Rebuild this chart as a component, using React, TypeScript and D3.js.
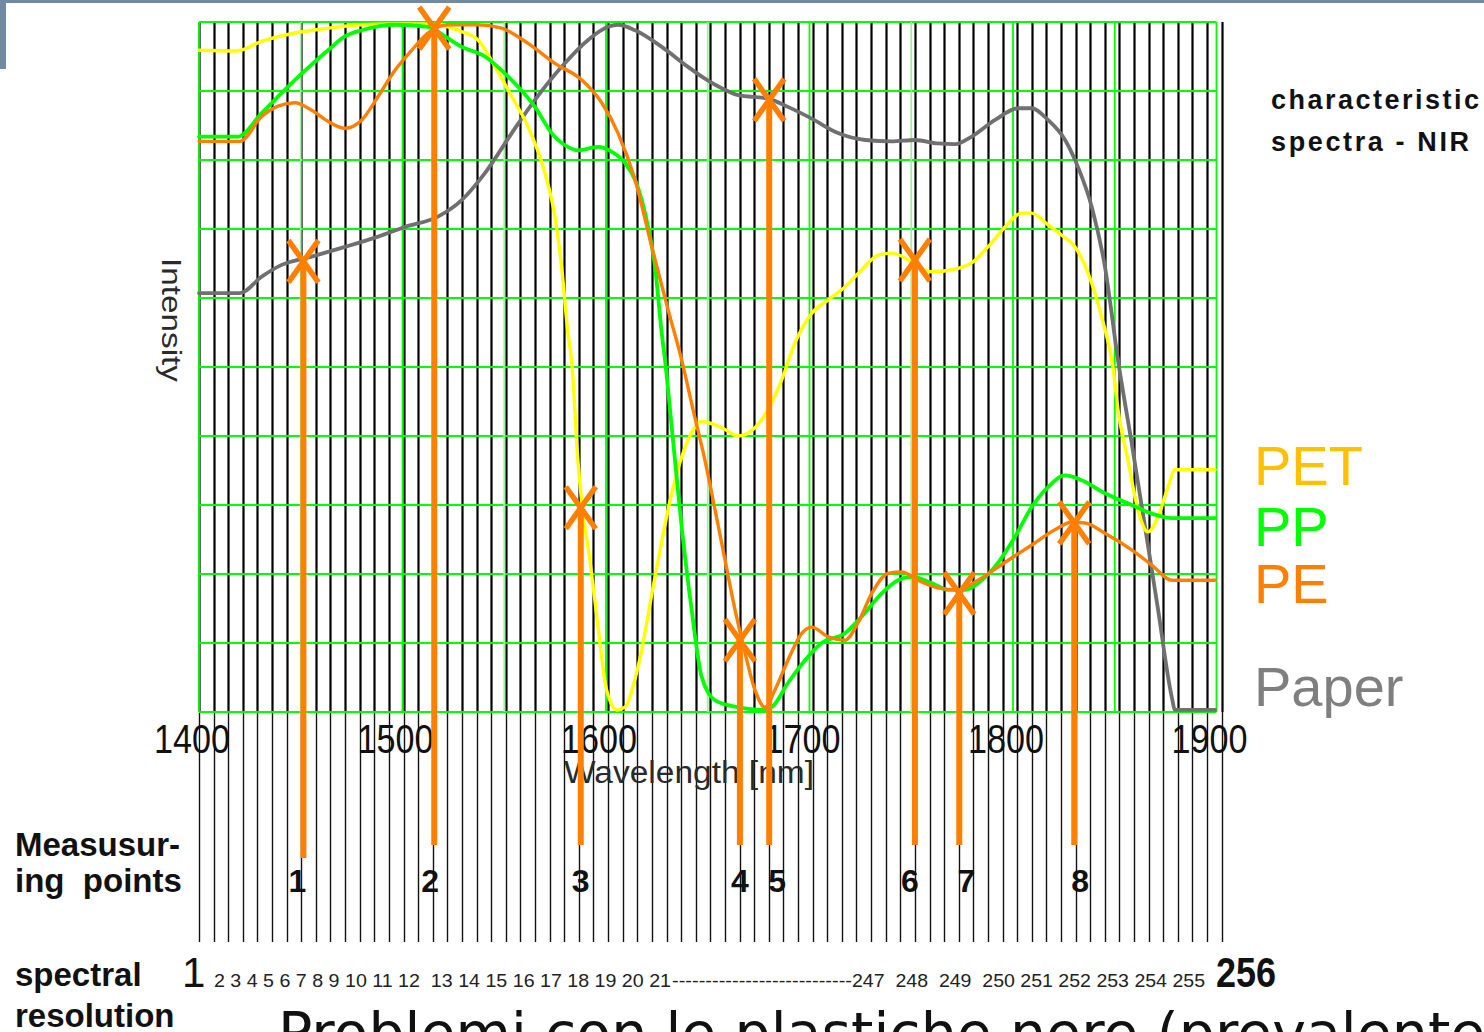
import React from "react";
import * as d3 from "d3";

// ---------- DATA ----------
const WAVELENGTH_TICKS = [1400, 1500, 1600, 1700, 1800, 1900];
const GRID_WAVELENGTHS = [1400, 1450, 1500, 1550, 1600, 1650, 1700, 1750, 1800, 1850, 1900];
const GRID_INTENSITIES = [0, 10, 20, 30, 40, 50, 60, 70, 80, 90, 100];
const RESOLUTION_COMB_COUNT = 71;

const PET: [number, number][] = [
  [1400, 95.9], [1418.5, 95.8], [1430.8, 97.2], [1447.2, 98.4], [1463.4, 99.1], [1480, 99.6],
  [1496.3, 99.7], [1512.5, 99.7], [1529.1, 98.6], [1537.1, 97.4], [1545.5, 93.5], [1553.7, 89.2],
  [1561.7, 84.8], [1570, 78.1], [1574.9, 71.8], [1578.2, 64.5], [1581.3, 54.9], [1583.1, 51.0],
  [1586.2, 36.5], [1588.1, 30.3], [1592.1, 22.0], [1596.1, 12.3], [1600.3, 3.2], [1605.3, 0.3],
  [1609.3, 0.7], [1615.7, 6.5], [1624.1, 19.6], [1632.3, 31.7], [1640.3, 39.4], [1647, 42.1],
  [1656.9, 41.2], [1664.9, 40], [1673.2, 41.2], [1679.6, 43.8], [1686.3, 48.1], [1692.9, 53.5],
  [1701.1, 57.8], [1709.1, 59.7], [1717.4, 61.6], [1725.7, 64.1], [1733.7, 66.2], [1740.4, 66.5],
  [1746.9, 65.8], [1753.3, 64.5], [1760.1, 63.8], [1773, 64.3], [1779.7, 65.1], [1787.7, 67.4],
  [1796.1, 70.3], [1804.3, 72.3], [1809.2, 72.3], [1817.2, 70.6], [1823.9, 69.1], [1830.5, 67.4],
  [1836.9, 63.6], [1843.6, 57.2], [1849.1, 50], [1851.6, 43.8], [1856.5, 36.5], [1861.4, 29.3],
  [1866.3, 26.1], [1871.3, 28.3], [1876.2, 32.6], [1879.6, 35.1], [1899.3, 35.1],
];

const PP: [number, number][] = [
  [1400, 83.4], [1419.2, 83.4], [1430.8, 86.8], [1447.2, 91.6], [1463.4, 95.9], [1471.7, 97.9],
  [1480, 98.8], [1496.3, 99.6], [1512.5, 99.3], [1520.9, 97.9], [1529.1, 96.4], [1540.5, 95],
  [1548.7, 93], [1556.8, 90.6], [1565.1, 87.7], [1573.3, 83.9], [1581.3, 81.9], [1586.2, 81.4],
  [1596.1, 81.9], [1602.8, 81.2], [1609.3, 79.6], [1614.3, 77.1], [1619.2, 72.3], [1624.1, 64.5],
  [1627.4, 54.9], [1629, 51], [1632.3, 41.3], [1637.2, 26.8], [1642.1, 14.8], [1647, 5.1],
  [1653.6, 1.7], [1664.9, 0.7], [1676.5, 0.3], [1681.4, 0.7], [1689.4, 4.2], [1697.8, 7.5],
  [1706, 10], [1717.4, 11.4], [1725.6, 13.8], [1735.5, 17.2], [1743.5, 19.1], [1750.2, 19.6],
  [1760, 18.7], [1768.1, 17.7], [1776.4, 17.7], [1784.6, 19.1], [1792.6, 21.6], [1801, 25.4],
  [1809.2, 29.7], [1817.2, 32.6], [1825.6, 34.3], [1833.8, 33.6], [1845.2, 31.7], [1858.3, 30],
  [1869.8, 28.6], [1878, 28.1], [1899.3, 28.1],
];

const PE: [number, number][] = [
  [1400, 82.7], [1420.1, 82.7], [1430.8, 86.3], [1438.8, 87.8], [1447.2, 88.3], [1455.4, 87.2],
  [1463.4, 85.6], [1471.7, 84.6], [1480, 85.8], [1488, 89.2], [1496.3, 93], [1504.5, 95.9],
  [1512.5, 98.4], [1522.4, 99.6], [1537.1, 99.6], [1548.7, 99.1], [1561.7, 96.9], [1574.9, 94],
  [1588.1, 91.6], [1597.9, 88.3], [1605.9, 83.9], [1614.3, 77.1], [1622.5, 67.4], [1630.5, 58.3],
  [1637.2, 51], [1642.8, 43.8], [1648.6, 36.5], [1653.6, 29.3], [1658.5, 22], [1663.4, 14.8],
  [1668.3, 8.6], [1673.2, 3.2], [1678.1, 0.7], [1683, 3.2], [1689.4, 7.5], [1696.2, 11.4],
  [1701.1, 12.3], [1709.1, 10.9], [1717.4, 10.4], [1723.8, 12.9], [1730.6, 17.2], [1738.6, 20.1],
  [1745.3, 20.3], [1753.3, 19.1], [1763.1, 18], [1773, 17.7], [1782.8, 19.1], [1796.1, 21.7],
  [1809.2, 24.2], [1820.6, 26.4], [1828.8, 27.5], [1835.4, 27.4], [1845.2, 25.9], [1858.3, 23.5],
  [1868.2, 21.3], [1878, 19.1], [1899.3, 19.1],
];

const PAPER: [number, number][] = [
  [1400, 60.7], [1420.1, 60.7], [1430.8, 63.1], [1440.6, 64.8], [1455.4, 66], [1471.7, 67.4],
  [1488, 68.9], [1501.2, 70.3], [1517.4, 71.8], [1529.1, 74.2], [1540.5, 78.1], [1553.7, 83.9],
  [1565.1, 88.7], [1578.2, 93.5], [1591.2, 97.4], [1601, 99.3], [1605.9, 99.6], [1614.3, 98.8],
  [1627.4, 96.4], [1640.3, 93.5], [1648.6, 91.8], [1656.9, 90.4], [1664.9, 89.4], [1679.6, 88.9],
  [1689.4, 87.7], [1701.1, 86], [1714, 83.9], [1727.3, 82.9], [1740.4, 82.7], [1751.8, 82.9],
  [1763.1, 82.4], [1771.5, 82.3], [1779.7, 83.4], [1791.2, 85.8], [1802.5, 87.5], [1809.2, 87.5],
  [1817.2, 85.8], [1825.6, 82.9], [1831.9, 79], [1838.7, 73.2], [1845.2, 64.5], [1851.6, 51],
  [1858.3, 39], [1864.9, 26.8], [1871.3, 14.8], [1878, 2.2], [1879.6, 0.3], [1899.3, 0.3],
];

const POINT_LABELS = ["1", "2", "3", "4", "5", "6", "7", "8"];
const POINT_WAVELENGTHS = [1451.3, 1515.6, 1587.6, 1665.8, 1680.2, 1751.8, 1773.6, 1830.1];
const POINT_INTENSITIES = [65.3, 99.1, 29.6, 10.4, 88.7, 65.5, 17.2, 27.4];

const LEGEND_LABELS = ["PET", "PP", "PE", "Paper"];
const RES_LOW_LABELS = "2 3 4 5 6 7 8 9 10 11 12  13 14 15 16 17 18 19 20 21";
const RES_HIGH_LABELS = "247  248  249  250 251 252 253 254 255";

// ---------- LAYOUT / STYLE ----------
const W = 1484;
const H = 1032;
const PLOT_LEFT = 199;
const PLOT_RIGHT = 1216.5;
const PLOT_TOP = 22;
const PLOT_BOTTOM = 712;
const COMB_RIGHT = 1221.7;
const COMB_BOTTOM = 942;
const MEASURE_BOTTOM = 845;
const LABEL_NUDGE = [-6, -4, 0, 0, 8, -5, 7, 6];

const COLORS = {
  PET: "#ffff00",
  PP: "#00ff00",
  PE: "#ff8000",
  Paper: "#707070",
};
const LEGEND_COLORS = ["#ffc000", "#00ff00", "#ff8000", "#7f7f7f"];
const LEGEND_BASELINES = [485, 546, 603, 706];
const SANS = "'Liberation Sans', Arial, sans-serif";

export default function App() {
  const x = d3.scaleLinear().domain([1400, 1900]).range([PLOT_LEFT, PLOT_RIGHT]);
  const y = d3.scaleLinear().domain([0, 100]).range([PLOT_BOTTOM, PLOT_TOP]);
  const comb = d3.scaleLinear().domain([0, RESOLUTION_COMB_COUNT - 1]).range([PLOT_LEFT, COMB_RIGHT]);

  const line = d3
    .line<[number, number]>()
    .x((d) => x(d[0]))
    .y((d) => y(d[1]))
    .curve(d3.curveMonotoneX);

  const series = [
    { key: "Paper", data: PAPER, color: COLORS.Paper, width: 3.8 },
    { key: "PET", data: PET, color: COLORS.PET, width: 3.4 },
    { key: "PP", data: PP, color: COLORS.PP, width: 3.8 },
    { key: "PE", data: PE, color: COLORS.PE, width: 3.4 },
  ];

  return (
    <svg
      width={W}
      height={H}
      viewBox={`0 0 ${W} ${H}`}
      style={{ position: "absolute", left: 0, top: 0, background: "#fff" }}
    >
      <rect x={0} y={0} width={W} height={H} fill="#fff" />
      {/* slide decoration */}
      <rect x={0} y={0} width={W} height={3} fill="#7189a1" />
      <rect x={0} y={0} width={6} height={69} fill="#7189a1" />

      {/* spectral-resolution comb */}
      <g>
        {d3.range(RESOLUTION_COMB_COUNT).map((i) => {
          const cx = Math.round(comb(i)) + 0.5;
          return (
            <g key={i}>
              <line x1={cx} x2={cx} y1={PLOT_TOP} y2={PLOT_BOTTOM} stroke="#000" strokeWidth={2.2} />
              <line x1={cx} x2={cx} y1={PLOT_BOTTOM} y2={COMB_BOTTOM} stroke="#111" strokeWidth={1.4} />
            </g>
          );
        })}
      </g>

      {/* green grid */}
      <g>
        {GRID_INTENSITIES.map((v) => (
          <line key={"h" + v} x1={PLOT_LEFT} x2={PLOT_RIGHT} y1={y(v)} y2={y(v)} stroke="#00ff00" strokeWidth={1.8} />
        ))}
        {GRID_WAVELENGTHS.map((v) => (
          <line
            key={"v" + v}
            x1={x(v)}
            x2={x(v)}
            y1={PLOT_TOP}
            y2={PLOT_BOTTOM}
            stroke={v % 100 === 0 || v === 1850 ? "#00ff00" : "#9ef29e"}
            strokeWidth={1.8}
          />
        ))}
      </g>

      {/* axis tick labels */}
      <g fontFamily={SANS} fontSize={40} fill="#111">
        {WAVELENGTH_TICKS.map((t) => (
          <text
            key={t}
            x={x(t) - 7 - 38}
            y={753}
            textLength={76}
            lengthAdjust="spacingAndGlyphs"
          >
            {t}
          </text>
        ))}
      </g>
      <text x={564} y={783} fontFamily={SANS} fontSize={31} fill="#2a2a2a" textLength={250} lengthAdjust="spacingAndGlyphs">
        Wavelength [nm]
      </text>
      <text
        transform="translate(162,258) rotate(90)"
        fontFamily={SANS}
        fontSize={27}
        fill="#2a2a2a"
        textLength={124}
        lengthAdjust="spacingAndGlyphs"
      >
        Intensity
      </text>

      {/* spectra */}
      <g fill="none" strokeLinejoin="round" strokeLinecap="round">
        {series.map((s) => (
          <path key={s.key} d={line(s.data) || ""} stroke={s.color} strokeWidth={s.width} />
        ))}
      </g>

      {/* measuring points */}
      <g stroke="#ff8000">
        {POINT_WAVELENGTHS.map((w, i) => {
          const cx = x(w);
          const cy = y(POINT_INTENSITIES[i]);
          return (
            <g key={i}>
              <line x1={cx} x2={cx} y1={cy} y2={MEASURE_BOTTOM + (i === 0 ? 13 : 0)} strokeWidth={6} />
              <line x1={cx - 15} x2={cx + 15} y1={cy - 21} y2={cy + 21} strokeWidth={5.5} />
              <line x1={cx + 15} x2={cx - 15} y1={cy - 21} y2={cy + 21} strokeWidth={5.5} />
            </g>
          );
        })}
      </g>
      <g fontFamily={SANS} fontSize={32} fontWeight="bold" fill="#111" textAnchor="middle">
        {POINT_LABELS.map((l, i) => (
          <text key={l} x={x(POINT_WAVELENGTHS[i]) + LABEL_NUDGE[i]} y={892}>
            {l}
          </text>
        ))}
      </g>

      {/* right-side title */}
      <g fontFamily={SANS} fontSize={27} fontWeight="bold" fill="#111">
        <text x={1271} y={109} textLength={208} lengthAdjust="spacing">characteristic</text>
        <text x={1271} y={151} textLength={198} lengthAdjust="spacing">spectra - NIR</text>
      </g>

      {/* legend */}
      <g fontFamily={SANS} fontSize={56}>
        {LEGEND_LABELS.map((l, i) => (
          <text key={l} x={1254} y={LEGEND_BASELINES[i]} fill={LEGEND_COLORS[i]}>
            {l}
          </text>
        ))}
      </g>

      {/* bottom labels */}
      <g fontFamily={SANS} fontSize={33} fontWeight="bold" fill="#111">
        <text x={15} y={856}>Measusur-</text>
        <text x={15} y={892} style={{ whiteSpace: "pre" }}>{"ing  points"}</text>
        <text x={15} y={986}>spectral</text>
        <text x={15} y={1027}>resolution</text>
      </g>
      <text x={182} y={987} fontFamily={SANS} fontSize={42} fill="#111">1</text>
      <g fontFamily={SANS} fontSize={19} fill="#222">
        <text x={214} y={987} textLength={457} lengthAdjust="spacingAndGlyphs" style={{ whiteSpace: "pre" }}>
          {RES_LOW_LABELS}
        </text>
        <text x={672} y={987} textLength={180} lengthAdjust="spacingAndGlyphs">
          {"-".repeat(27)}
        </text>
        <text x={852} y={987} textLength={353} lengthAdjust="spacingAndGlyphs" style={{ whiteSpace: "pre" }}>
          {RES_HIGH_LABELS}
        </text>
      </g>
      <text x={1216} y={987} fontFamily={SANS} fontSize={42} fontWeight="bold" fill="#111" textLength={60} lengthAdjust="spacingAndGlyphs">
        256
      </text>

      <text x={278} y={1053} fontFamily="'DejaVu Sans', Verdana, sans-serif" fontSize={57} fill="#111">
        Problemi con le plastiche nere (prevalente
      </text>
    </svg>
  );
}
